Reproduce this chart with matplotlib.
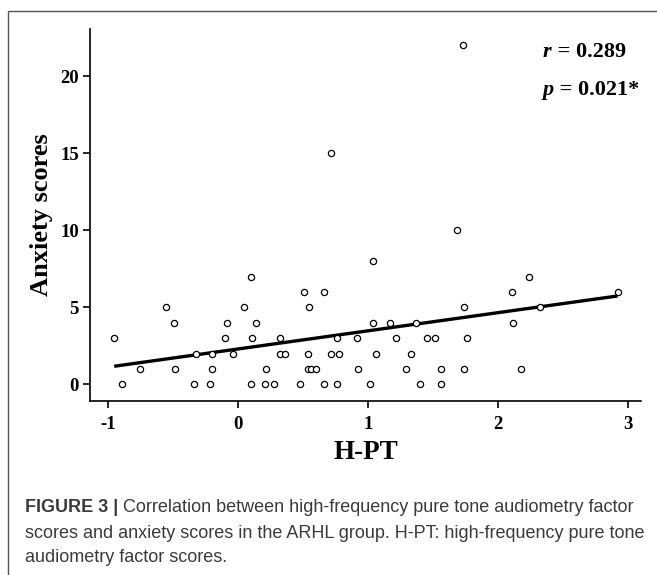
import numpy as np
import matplotlib
matplotlib.use("Agg")
import matplotlib.pyplot as plt
from matplotlib.patches import Rectangle

# H-PT factor scores and anxiety scores
hpt = [-0.95, -0.89, -0.75, -0.554, -0.49, -0.48, -0.338, -0.323, -0.21, -0.195,
       -0.20, -0.098, -0.082, -0.04, 0.046, 0.102, 0.108, 0.138, 0.102, 0.215,
       0.21, 0.28, 0.328, 0.328, 0.364, 0.482, 0.512, 0.548, 0.543, 0.538,
       0.564, 0.605, 0.662, 0.662, 0.713, 0.779, 0.764, 0.764, 1.036, 1.041,
       0.918, 0.928, 1.015, 1.066, 1.174, 1.215, 1.297, 1.333, 1.369, 1.40,
       1.456, 1.518, 1.564, 1.564, 1.743, 1.743, 1.764, 2.238, 2.105, 2.325,
       2.115, 2.174, 2.92, 1.733, 0.718, 1.685]
anxiety = [3, 0, 1, 5, 4, 1, 0, 2, 0, 2,
           1, 3, 4, 2, 5, 7, 3, 4, 0, 1,
           0, 0, 3, 2, 2, 0, 6, 5, 2, 1,
           1, 1, 6, 0, 2, 2, 3, 0, 8, 4,
           3, 1, 0, 2, 4, 3, 1, 2, 4, 0,
           3, 3, 1, 0, 5, 1, 3, 7, 6, 5,
           4, 1, 6, 22, 15, 10]

r_text = "0.289"
p_text = "0.021*"
x_ticks = [-1, 0, 1, 2, 3]
y_ticks = [0, 5, 10, 15, 20]

cap_head = "FIGURE 3 |"
cap_line1 = " Correlation between high-frequency pure tone audiometry factor"
cap_rest = [
    "scores and anxiety scores in the ARHL group. H-PT: high-frequency pure tone",
    "audiometry factor scores.",
]

serif = "Liberation Serif"

fig = plt.figure(figsize=(6.57, 5.75), dpi=100)
ax = fig.add_axes([90 / 657, 1 - 401 / 575, (641 - 90) / 657, (401 - 29) / 575])

x = np.array(hpt)
y = np.array(anxiety)
ax.scatter(x, y, s=20, facecolors="white", edgecolors="black", linewidths=0.9, zorder=3)

# least-squares fit line over the data range
slope, icpt = np.polyfit(x, y, 1)
xl = np.array([x.min(), x.max()])
ax.plot(xl, slope * xl + icpt, color="black", lw=2.4, zorder=2, solid_capstyle="butt")

ax.set_xlim(-1.136, 3.1)
ax.set_ylim(-1.08, 23.07)
ax.set_xticks(x_ticks)
ax.set_yticks(y_ticks)
ax.set_xticklabels([str(t) for t in x_ticks])
for s in ["top", "right"]:
    ax.spines[s].set_visible(False)
for s in ["left", "bottom"]:
    ax.spines[s].set_linewidth(1.2)
ax.tick_params(length=5, width=1.2, labelsize=13.5)
ax.tick_params(axis="x", pad=6)
ax.tick_params(axis="y", pad=3)
for lab in ax.get_xticklabels() + ax.get_yticklabels():
    lab.set_fontfamily(serif)
    lab.set_fontweight("bold")

ax.set_xlabel("H-PT", fontfamily=serif, fontweight="bold", fontsize=19.5, labelpad=5)
ax.set_ylabel("Anxiety scores", fontfamily=serif, fontweight="bold", fontsize=19, labelpad=5)

fs = 16
t1 = fig.text(543 / 657, 1 - 52 / 575, "r", fontfamily=serif,
              fontweight="bold", fontstyle="italic", fontsize=fs, va="center")
fig.add_artist(plt.Annotation(" = " + r_text, xy=(1, 0), xycoords=t1, fontfamily=serif,
                              fontweight="bold", fontsize=fs, va="bottom"))
t2 = fig.text(543 / 657, 1 - 90 / 575, "p", fontfamily=serif,
              fontweight="bold", fontstyle="italic", fontsize=fs, va="center")
fig.add_artist(plt.Annotation(" = " + p_text, xy=(1, 0), xycoords=t2, fontfamily=serif,
                              fontweight="bold", fontsize=fs, va="bottom"))

# frame around the figure
fig.patches.append(Rectangle((8 / 657, -0.1), 1.2, 1 - 11 / 575 + 0.1, transform=fig.transFigure,
                             fill=False, edgecolor="#555555", lw=1.0))

# caption
cap_font = "Liberation Sans"
cap_col = "#3a3a3a"
cfs = 13
c1 = fig.text(25 / 657, 1 - 507 / 575, cap_head, fontfamily=cap_font, fontweight="bold",
              fontsize=cfs, color=cap_col, va="center")
fig.add_artist(plt.Annotation(cap_line1, xy=(1, 0), xycoords=c1, fontfamily=cap_font,
                              fontsize=cfs, color=cap_col, va="bottom"))
fig.text(25 / 657, 1 - 533 / 575, cap_rest[0], fontfamily=cap_font, fontsize=cfs,
         color=cap_col, va="center")
fig.text(25 / 657, 1 - 557 / 575, cap_rest[1], fontfamily=cap_font, fontsize=cfs,
         color=cap_col, va="center")

fig.savefig("out.png", dpi=100)
